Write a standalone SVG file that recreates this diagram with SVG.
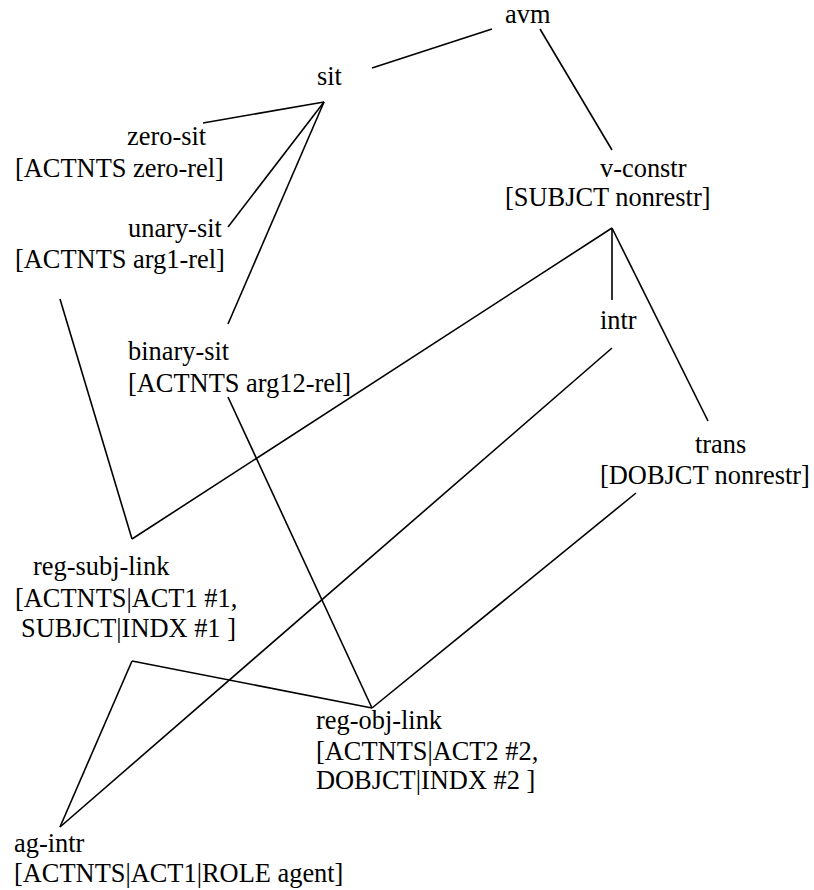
<svg xmlns="http://www.w3.org/2000/svg" width="814" height="890" viewBox="0 0 814 890">
<style>
text{font-family:"Liberation Serif","Times New Roman",serif;font-size:26.4px;fill:#000}
.c line{stroke:#000;stroke-width:1.6;fill:none}
</style>
<rect width="814" height="890" fill="#fff"/>
<g class="c" id="connectors">
<line x1="372" y1="68" x2="492" y2="29"/>
<line x1="540" y1="29" x2="612" y2="150"/>
<line x1="324" y1="102" x2="203" y2="123"/>
<line x1="324" y1="102" x2="228" y2="227"/>
<line x1="324" y1="102" x2="228" y2="324"/>
<line x1="60" y1="299" x2="132" y2="539"/>
<line x1="612" y1="228" x2="132" y2="539"/>
<line x1="612" y1="228" x2="612" y2="300"/>
<line x1="612" y1="228" x2="708" y2="421"/>
<line x1="228" y1="397" x2="372" y2="708"/>
<line x1="636" y1="493" x2="372" y2="708"/>
<line x1="132" y1="661" x2="372" y2="708"/>
<line x1="132" y1="661" x2="60" y2="827"/>
<line x1="612" y1="348" x2="60" y2="827"/>
</g>
<g id="avm"><text x="505" y="23">avm</text></g>
<g id="sit"><text x="317" y="85">sit</text></g>
<g id="zero-sit"><text x="127" y="145">zero-sit</text><text x="15" y="177">[ACTNTS zero-rel]</text></g>
<g id="unary-sit"><text x="128" y="237">unary-sit</text><text x="15" y="268">[ACTNTS arg1-rel]</text></g>
<g id="binary-sit"><text x="128" y="360">binary-sit</text><text x="128" y="392">[ACTNTS arg12-rel]</text></g>
<g id="v-constr"><text x="600" y="177">v-constr</text><text x="505" y="206">[SUBJCT nonrestr]</text></g>
<g id="intr"><text x="600" y="329">intr</text></g>
<g id="trans"><text x="695" y="453">trans</text><text x="600" y="484">[DOBJCT nonrestr]</text></g>
<g id="reg-subj-link"><text x="33" y="575">reg-subj-link</text><text x="15" y="607">[ACTNTS|ACT1 #1,</text><text x="21" y="637">SUBJCT|INDX #1 ]</text></g>
<g id="reg-obj-link"><text x="316" y="729">reg-obj-link</text><text x="316" y="760">[ACTNTS|ACT2 #2,</text><text x="316" y="789">DOBJCT|INDX #2 ]</text></g>
<g id="ag-intr"><text x="14" y="852">ag-intr</text><text x="14" y="882">[ACTNTS|ACT1|ROLE agent]</text></g>
</svg>
